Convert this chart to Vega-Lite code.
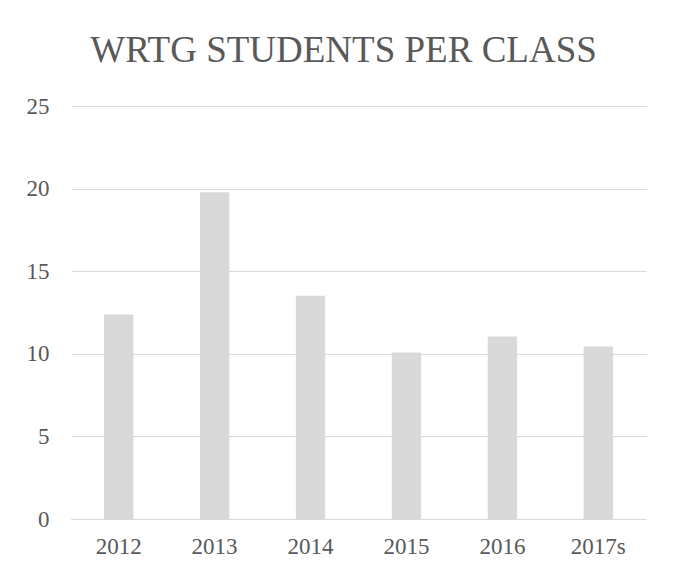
{
  "$schema": "https://vega.github.io/schema/vega-lite/v6.json",
  "autosize": {"type": "none"},
  "width": 575,
  "height": 413,
  "padding": {"left": 71, "top": 106, "right": 30, "bottom": 54},
  "background": "white",
  "title": {
    "text": "WRTG STUDENTS PER CLASS",
    "font": "Liberation Serif",
    "fontSize": 37,
    "fontWeight": "normal",
    "color": "#595959",
    "anchor": "middle",
    "frame": "group",
    "dx": -15,
    "offset": 25
  },
  "data": {
    "values": [
      {"year": "2012", "students": 12.38},
      {"year": "2013", "students": 19.78},
      {"year": "2014", "students": 13.52},
      {"year": "2015", "students": 10.08},
      {"year": "2016", "students": 11.05},
      {"year": "2017s", "students": 10.44}
    ]
  },
  "mark": {"type": "bar", "color": "#d9d9d9"},
  "encoding": {
    "x": {
      "field": "year",
      "type": "nominal",
      "sort": null,
      "scale": {"paddingInner": 0.694, "paddingOuter": 0.344},
      "axis": {
        "title": null,
        "labelAngle": 0,
        "labelFont": "Liberation Serif",
        "labelFontSize": 23,
        "labelColor": "#595959",
        "domainColor": "#d9d9d9",
        "ticks": false,
        "labelPadding": 16
      }
    },
    "y": {
      "field": "students",
      "type": "quantitative",
      "scale": {"domain": [0, 25], "nice": false},
      "axis": {
        "title": null,
        "values": [0, 5, 10, 15, 20, 25],
        "labelFont": "Liberation Serif",
        "labelFontSize": 23,
        "labelColor": "#595959",
        "domain": false,
        "ticks": false,
        "gridColor": "#d9d9d9",
        "labelPadding": 22
      }
    }
  },
  "config": {"view": {"stroke": null}}
}
